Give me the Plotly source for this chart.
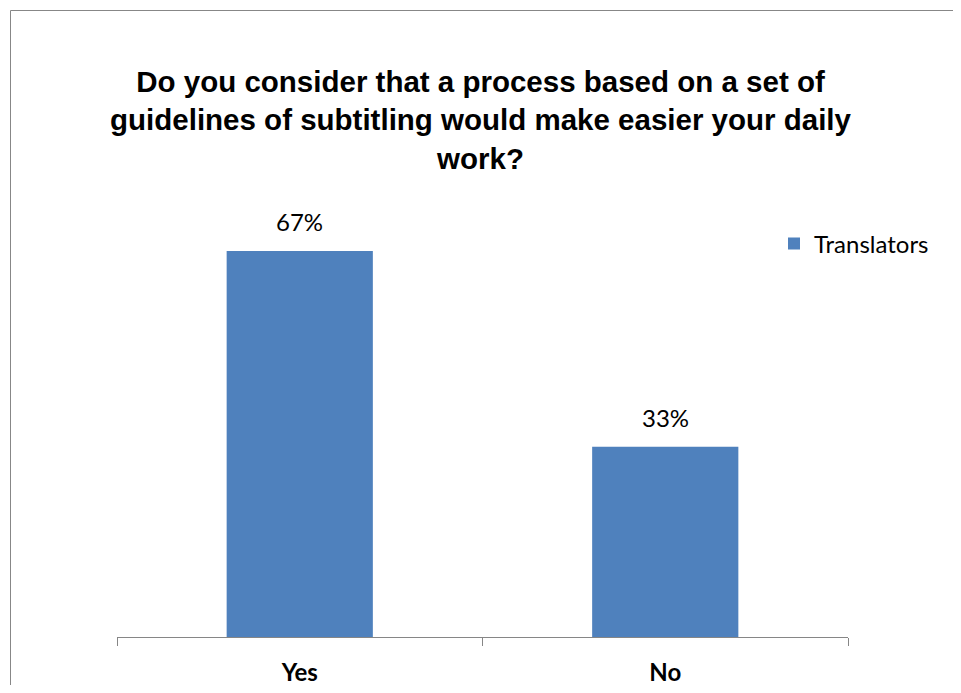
import plotly.graph_objects as go

categories = ["Yes", "No"]
values = [0.67, 0.33]
labels = ["67%", "33%"]
series_name = "Translators"
title_lines = [
    "Do you consider that a process based on a set of",
    "guidelines of subtitling would make easier your daily",
    "work?",
]

# page body has an 8px margin; the figure reaches the right edge of the 961px window
W, H = 953, 677
ml, mr, mt, mb = 109, 113, 168, 48
pw = W - ml - mr
ph = H - mt - mb

fig = go.Figure()
fig.add_trace(go.Bar(
    x=categories, y=values, name=series_name,
    marker=dict(color="#4F81BD", line=dict(width=0)),
    showlegend=True,
))

for c, v, t in zip(categories, values, labels):
    fig.add_annotation(x=c, y=v, text=t, showarrow=False, yanchor="bottom",
                       yshift=13, font=dict(family="Lato", size=24, color="#000000"))

# outer chart border (only top and left edges are visible in the frame)
bx0 = (2.5 - ml) / pw
by1 = (H - mb - 2.5) / ph
xr = (W - ml) / pw
yb = -mb / ph
border = dict(color="#878787", width=1)
fig.add_shape(type="line", xref="paper", yref="paper", x0=bx0, x1=xr, y0=by1, y1=by1,
              line=border, layer="below")
fig.add_shape(type="line", xref="paper", yref="paper", x0=bx0, x1=bx0, y0=yb, y1=by1,
              line=border, layer="below")

fig.update_layout(
    width=W, height=H,
    margin=dict(l=ml, r=mr, t=mt, b=mb, autoexpand=False),
    paper_bgcolor="white", plot_bgcolor="white",
    bargap=0.6,
    title=dict(text="<br>".join(title_lines), x=472.5 / W, xref="container", xanchor="center",
               y=1 - 84 / H, yref="container", yanchor="top",
               font=dict(family="Liberation Sans", size=29.5, color="#000000", weight="bold")),
    xaxis=dict(type="category", range=[-0.5, 1.5], showline=True, linecolor="#868686", linewidth=1,
               ticks="outside", tickson="boundaries", ticklen=8, tickcolor="#868686", tickwidth=1,
               showgrid=False, zeroline=False, ticklabelstandoff=14,
               tickfont=dict(family="Lato", size=24, color="#000000", weight="bold")),
    yaxis=dict(range=[0, 0.8], visible=False, showgrid=False, zeroline=False),
    legend=dict(x=(766 - ml) / pw, xanchor="left", y=(H - mb - 236) / ph, yanchor="middle",
                font=dict(family="Lato", size=24, color="#000000"), bgcolor="rgba(0,0,0,0)"),
)

fig.write_html("out.html")
